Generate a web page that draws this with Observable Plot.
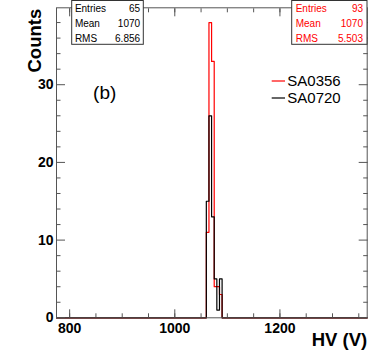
<!DOCTYPE html>
<html>
<head>
<meta charset="utf-8">
<script src="https://cdn.jsdelivr.net/npm/d3@7"></script>
<script src="https://cdn.jsdelivr.net/npm/@observablehq/plot@0.6"></script>
<style>
html, body { margin: 0; padding: 0; background: #fff; overflow: hidden; }
</style>
</head>
<body>
<div id="chart"></div>
<script>
// ---- data ----
const hvBinEdges = [1060, 1065, 1070, 1075, 1080, 1085, 1090];
const countsSA0356 = [11, 38, 33, 4, 4, 3];
const countsSA0720 = [15, 26, 13, 5, 1, 5];
const seriesNames = ["SA0356", "SA0720"];
const seriesColors = ["#ff0000", "#000000"];
const statLabels = ["Entries", "Mean", "RMS"];
const statsSA0356 = ["93", "1070", "5.503"];
const statsSA0720 = ["65", "1070", "6.856"];
const xDomain = [775, 1366];
const yDomain = [0, 39.9];
const xMajorTicks = [800, 1000, 1200];
const xMinorTicks = [800, 850, 900, 950, 1000, 1050, 1100, 1150, 1200, 1250, 1300, 1350];
const yMajorTicks = [0, 10, 20, 30];
const yMinorTicks = [2, 4, 6, 8, 12, 14, 16, 18, 22, 24, 26, 28, 32, 34, 36, 38];
const xTitle = "HV (V)";
const yTitle = "Counts";
const panelLabel = "(b)";

// ---- helpers ----
const font = "'Liberation Sans', Arial, Helvetica, sans-serif";
const axisColor = "#555";

function stepPoints(counts) {
  const pts = [{x: xDomain[0], y: 0}];
  counts.forEach((c, i) => pts.push({x: hvBinEdges[i], y: c}));
  pts.push({x: hvBinEdges[hvBinEdges.length - 1], y: 0});
  pts.push({x: xDomain[1], y: 0});
  return pts;
}

function overlay() {
  const g = d3.create("svg:g").attr("font-family", font).attr("text-anchor", "start");
  function statsBox(x, w, inset, color, values) {
    g.append("rect").attr("x", x).attr("y", 0.5).attr("width", w).attr("height", 43.8)
      .attr("fill", "white").attr("stroke", "#333").attr("stroke-width", 1);
    statLabels.forEach((lab, i) => {
      const by = 11.7 + 15 * i;
      g.append("text").attr("x", x + inset).attr("y", by).attr("font-size", 10)
        .attr("text-anchor", "start").attr("fill", color).text(lab);
      g.append("text").attr("x", x + w - inset).attr("y", by).attr("font-size", 10)
        .attr("text-anchor", "end").attr("fill", color).text(values[i]);
    });
  }
  statsBox(71.7, 71.6, 3.2, seriesColors[1], statsSA0720);
  statsBox(291.7, 75.3, 4, seriesColors[0], statsSA0356);
  // legend
  seriesNames.forEach((name, i) => {
    const by = 86.3 + 17 * i;
    g.append("line").attr("x1", 271.7).attr("x2", 285).attr("y1", by - 5.3).attr("y2", by - 5.3)
      .attr("stroke", seriesColors[i]).attr("stroke-width", 1.2);
    g.append("text").attr("x", 287.3).attr("y", by).attr("font-size", 15)
      .attr("text-anchor", "start").attr("fill", "#000").text(name);
  });
  return g.node();
}

const chart = Plot.plot({
  width: 374,
  height: 361,
  marginLeft: 56,
  marginRight: 7.3,
  marginTop: 7.3,
  marginBottom: 43.7,
  style: {fontFamily: font, background: "white", color: "black"},
  x: {domain: xDomain},
  y: {domain: yDomain},
  marks: [
    Plot.line(stepPoints(countsSA0356), {x: "x", y: "y", curve: "step-after", stroke: seriesColors[0], strokeWidth: 1.2}),
    Plot.line(stepPoints(countsSA0720), {x: "x", y: "y", curve: "step-after", stroke: seriesColors[1], strokeWidth: 1.2}),
    Plot.frame({stroke: axisColor}),
    // inward ticks
    Plot.axisX(xMinorTicks, {anchor: "bottom", tickSize: -4, fill: "none", stroke: axisColor}),
    Plot.axisX(xMajorTicks, {anchor: "bottom", tickSize: -8, fill: "none", stroke: axisColor}),
    Plot.axisX(xMinorTicks, {anchor: "top", tickSize: -4, fill: "none", stroke: axisColor}),
    Plot.axisX(xMajorTicks, {anchor: "top", tickSize: -8, fill: "none", stroke: axisColor}),
    Plot.axisY(yMinorTicks, {anchor: "left", tickSize: -4.5, fill: "none", stroke: axisColor}),
    Plot.axisY(yMajorTicks, {anchor: "left", tickSize: -9, fill: "none", stroke: axisColor}),
    Plot.axisY(yMinorTicks, {anchor: "right", tickSize: -4.5, fill: "none", stroke: axisColor}),
    Plot.axisY(yMajorTicks, {anchor: "right", tickSize: -9, fill: "none", stroke: axisColor}),
    // tick labels
    Plot.axisX(xMajorTicks, {anchor: "bottom", tickSize: 0, tickPadding: 5, tickFormat: d => String(d), fontSize: 14, fontWeight: "bold", label: null}),
    Plot.axisY(yMajorTicks, {anchor: "left", tickSize: 0, tickPadding: 3, tickFormat: d => String(d), fontSize: 14, fontWeight: "bold", label: null}),
    // titles
    Plot.text([xTitle], {frameAnchor: "bottom-right", textAnchor: "end", dy: 28.3, fontSize: 18.5, fontWeight: "bold", fill: "black"}),
    Plot.text([yTitle], {frameAnchor: "top-left", textAnchor: "end", rotate: -90, dx: -28.6, dy: 1, fontSize: 18.5, fontWeight: "bold", fill: "black"}),
    Plot.text([panelLabel], {frameAnchor: "top-left", textAnchor: "middle", dx: 48.2, dy: 77.6, fontSize: 19, fill: "black"}),
    overlay
  ]
});
document.getElementById("chart").append(chart);
</script>
</body>
</html>
